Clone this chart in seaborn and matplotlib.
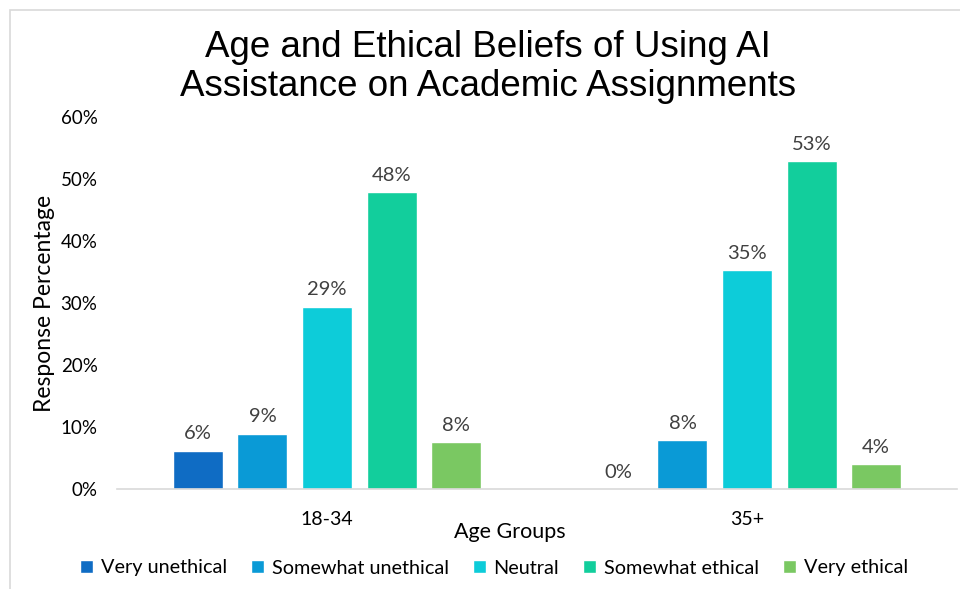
import matplotlib
matplotlib.use("Agg")
import matplotlib.pyplot as plt
import seaborn as sns
import pandas as pd
from matplotlib.patches import Rectangle
from matplotlib.ticker import FuncFormatter, MultipleLocator

age_groups = ["18-34", "35+"]
beliefs = ["Very unethical", "Somewhat unethical", "Neutral", "Somewhat ethical", "Very ethical"]
values_18_34 = [6.2, 8.9, 29.4, 47.9, 7.6]
values_35_plus = [0.0, 7.9, 35.3, 52.9, 4.0]
colors = ["#0F6CC4", "#0A9AD6", "#0DCCD9", "#12CE9C", "#7AC862"]

rows = []
for g, vals in zip(age_groups, [values_18_34, values_35_plus]):
    for b, v in zip(beliefs, vals):
        rows.append({"Age Groups": g, "Belief": b, "Value": v})
df = pd.DataFrame(rows)

sns.set_theme(style="white")
plt.rcParams["font.family"] = ["Lato", "DejaVu Sans"]
plt.rcParams["text.color"] = "black"

fig = plt.figure(figsize=(9.6, 5.89), dpi=100)
ax = fig.add_axes([117/960, 100/589, 840/960, 372/589])

sns.barplot(data=df, x="Age Groups", y="Value", hue="Belief", hue_order=beliefs,
            order=age_groups, palette=colors, width=0.768, gap=0.225,
            saturation=1, ax=ax, errorbar=None)

for cont in ax.containers:
    labels = [f"{round(b.get_height())}%" for b in cont]
    ax.bar_label(cont, labels=labels, padding=6, fontsize=14.5, color="#404040")

ax.set_xlim(-0.5, 1.5)
ax.set_ylim(0, 60)
ax.yaxis.set_major_locator(MultipleLocator(10))
ax.yaxis.set_major_formatter(FuncFormatter(lambda v, p: f"{int(v)}%"))
ax.tick_params(axis="y", labelsize=13.5, colors="black", length=0, pad=14)
ax.tick_params(axis="x", labelsize=14, colors="black", length=0, pad=16)
for s in ["top", "right", "left"]:
    ax.spines[s].set_visible(False)
ax.spines["bottom"].set_color("#D9D9D9")
ax.spines["bottom"].set_linewidth(1.2)
ax.set_xlabel("")
ax.set_ylabel("")

handles, labels = ax.get_legend_handles_labels()
if ax.get_legend() is not None:
    ax.get_legend().remove()
fig.legend(handles, labels, loc="center", bbox_to_anchor=(494/960, 1-568/589), ncol=5,
           frameon=False, fontsize=14.3, handlelength=0.65, handleheight=0.65,
           handletextpad=0.4, columnspacing=1.2)

fig.text(510/960, 1-532/589, "Age Groups", ha="center", va="center", fontsize=15.5,
         color="black")
fig.text(45/960, 1-303/589, "Response Percentage", ha="center", va="center",
         rotation=90, fontsize=16.5, color="black")
fig.text(488/960, 1-67/589, "Age and Ethical Beliefs of Using AI\nAssistance on Academic Assignments",
         ha="center", va="center", fontsize=26.5, linespacing=1.12, color="black",
         family=["Liberation Sans", "DejaVu Sans"])

fig.patches.append(Rectangle((10/960, -0.05), 1.1, 1 - 10/589 + 0.05, transform=fig.transFigure,
                             fill=False, edgecolor="#D9D9D9", linewidth=1.2))

fig.savefig("out.png", dpi=100)
